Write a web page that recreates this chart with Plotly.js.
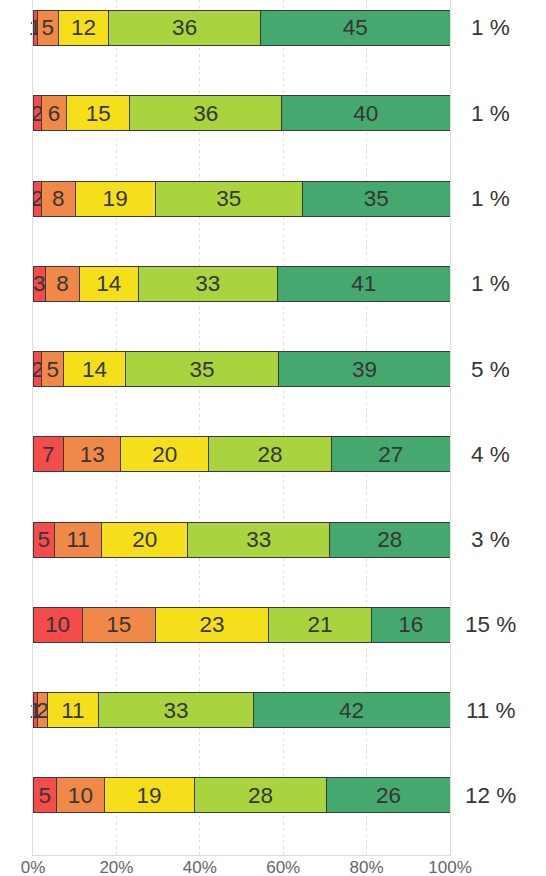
<!DOCTYPE html>
<html>
<head>
<meta charset="utf-8">
<script src="https://cdn.plot.ly/plotly-3.0.1.min.js"></script>
<style>html,body{margin:0;padding:0;background:#fff;}#chart{width:546px;height:876px;}</style>
</head>
<body>
<div id="chart"></div>
<script>
const rows = ["Q1","Q2","Q3","Q4","Q5","Q6","Q7","Q8","Q9","Q10"];
const veryBad  = [1, 2, 2, 3, 2, 7, 5, 10, 1, 5];
const bad      = [5, 6, 8, 8, 5, 13, 11, 15, 2, 10];
const neutral  = [12, 15, 19, 14, 14, 20, 20, 23, 11, 19];
const good     = [36, 36, 35, 33, 35, 28, 33, 21, 33, 28];
const veryGood = [45, 40, 35, 41, 39, 27, 28, 16, 42, 26];
const notAnswered = [1, 1, 1, 1, 5, 4, 3, 15, 11, 12];
const tickValues = [0, 20, 40, 60, 80, 100];

const series = [
  {name: "Very bad", values: veryBad, color: "#F44B4B"},
  {name: "Bad", values: bad, color: "#F08848"},
  {name: "Neutral", values: neutral, color: "#F5DF1A"},
  {name: "Good", values: good, color: "#A9D43E"},
  {name: "Very good", values: veryGood, color: "#45A86E"}
];

const font = "Arial, 'Liberation Sans', sans-serif";
const textColor = "#363636";
const textSize = 22.5;

const traces = series.map(s => ({
  type: "bar",
  orientation: "h",
  name: s.name,
  x: s.values,
  y: rows,
  text: s.values.map(String),
  texttemplate: "%{text}",
  textposition: "inside",
  insidetextanchor: "middle",
  constraintext: "none",
  textfont: {family: font, size: textSize, color: textColor},
  insidetextfont: {family: font, size: textSize, color: textColor},
  marker: {color: s.color, line: {color: "#3a3a3a", width: 1}},
  width: 0.41,
  hoverinfo: "skip",
  showlegend: false,
  cliponaxis: false
}));

const annotations = rows.map((r, i) => ({
  xref: "paper", yref: "y",
  x: 1.098, y: r,
  text: notAnswered[i] + " %",
  showarrow: false,
  xanchor: "center", yanchor: "middle",
  font: {family: font, size: textSize, color: textColor}
}));

const layout = {
  width: 546, height: 876,
  margin: {l: 33, r: 96, t: 0, b: 21, pad: 0},
  paper_bgcolor: "#fff", plot_bgcolor: "#fff",
  barmode: "stack",
  barnorm: "percent",
  font: {family: font},
  xaxis: {
    range: [-0.0001, 100.0001],
    tickvals: tickValues,
    ticktext: tickValues.map(v => v + "%"),
    showgrid: true,
    gridcolor: "#e0e0e0",
    griddash: "3px,3px",
    gridwidth: 1,
    zeroline: false,
    showline: true,
    linecolor: "#dcdcdc",
    linewidth: 1,
    ticks: "",
    ticklabelstandoff: -3,
    tickfont: {family: font, size: 17, color: "#666"},
    fixedrange: true
  },
  yaxis: {
    type: "category",
    categoryarray: rows,
    range: [9.698, -0.328],
    showticklabels: false,
    showgrid: false,
    zeroline: false,
    showline: true,
    mirror: true,
    linecolor: "#dcdcdc",
    linewidth: 1,
    ticks: "",
    fixedrange: true
  },
  annotations: annotations
};

Plotly.newPlot("chart", traces, layout, {displayModeBar: false, staticPlot: true});
</script>
</body>
</html>
